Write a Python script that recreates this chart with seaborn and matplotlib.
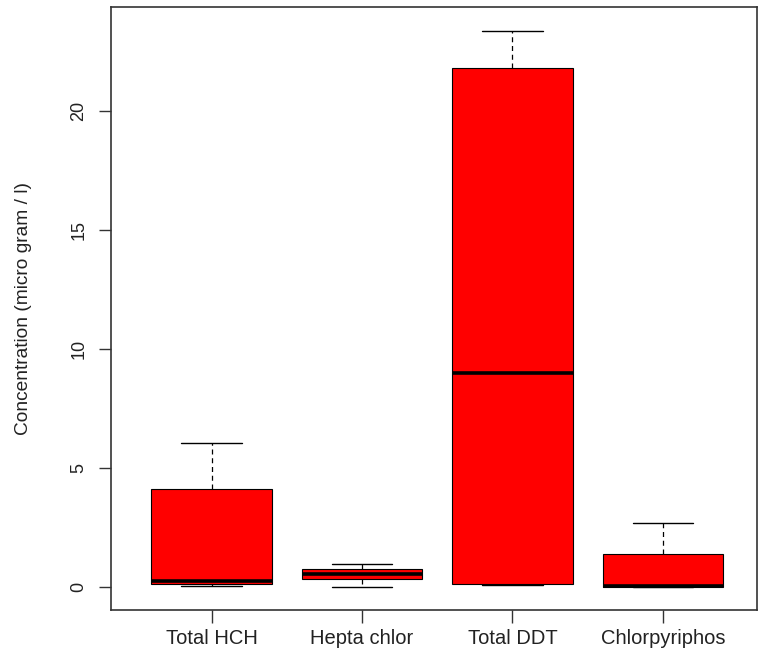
import pandas as pd
import numpy as np
import matplotlib
matplotlib.use("Agg")
import matplotlib.pyplot as plt
import seaborn as sns

# summary values: min, Q1, median, Q3, max
categorias = ["Total HCH", "Hepta chlor", "Total DDT", "Chlorpyriphos"]
total_hch = [0.04, 0.13, 0.25, 4.12, 6.05]
hepta_chlor = [0.03, 0.37, 0.58, 0.78, 0.99]
total_ddt = [0.10, 0.15, 8.98, 21.8, 23.33]
chlorpyriphos = [0.00, 0.02, 0.06, 1.40, 2.70]

y_ticks = [0, 5, 10, 15, 20]

valores = [total_hch, hepta_chlor, total_ddt, chlorpyriphos]
df = pd.DataFrame({
    "pesticida": np.repeat(categorias, [len(v) for v in valores]),
    "conc": np.concatenate(valores),
})

sns.set_style("ticks")
plt.rcParams["font.family"] = ["Liberation Sans", "DejaVu Sans"]
plt.rcParams["text.color"] = "#222222"
plt.rcParams["axes.labelcolor"] = "#222222"

fig = plt.figure(figsize=(7.62, 6.61), dpi=100)
ax = fig.add_axes([0.1457, 0.0772, 0.8477, 0.9122])

sns.boxplot(data=df, x="pesticida", y="conc", order=categorias, ax=ax,
            color="#ff0000", saturation=1, linecolor="black", linewidth=0.8,
            width=0.8, whis=1.5, showfliers=False,
            medianprops={"linewidth": 2.6, "color": "black"},
            whiskerprops={"linestyle": (0, (4, 3)), "linewidth": 0.9},
            capprops={"linewidth": 1.0})

ax.set_xlim(-0.668, 3.625)
ax.set_ylim(-0.95, 24.35)
ax.set_yticks(y_ticks)
ax.set_yticklabels([str(t) for t in y_ticks], rotation=90, va="center")
ax.tick_params(axis="y", length=9, width=1, pad=8, labelsize=13, colors="#333333",
               labelcolor="#222222")
ax.tick_params(axis="x", length=9, width=1, pad=5, labelsize=14.5, colors="#333333",
               labelcolor="#222222")

for s in ax.spines.values():
    s.set_visible(True)
    s.set_linewidth(1.2)
    s.set_color("#333333")

ax.set_xlabel("")
ax.set_ylabel("Concentration (micro gram / l)", fontsize=13.8)
ax.yaxis.set_label_coords(-0.122, 0.5)

fig.savefig("out.png", dpi=100)
